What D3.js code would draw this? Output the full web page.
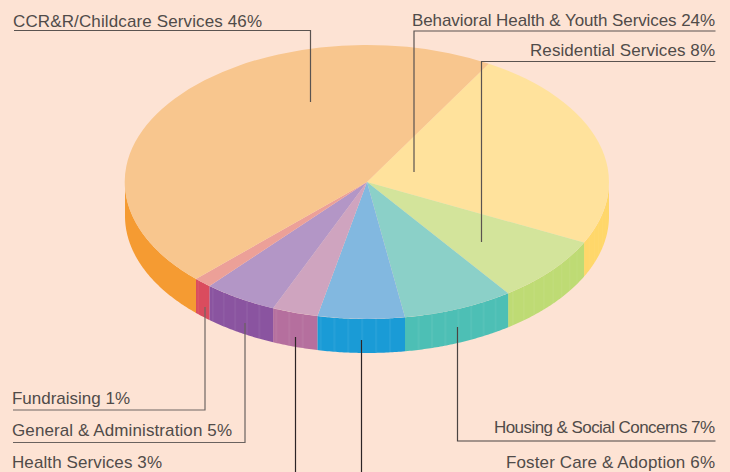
<!DOCTYPE html>
<html>
<head>
<meta charset="utf-8">
<script src="https://cdn.jsdelivr.net/npm/d3@7"></script>
<style>
  html, body { margin: 0; padding: 0; background: #fde3d4; }
  svg { display: block; }
  text { font-family: "Liberation Sans", Arial, sans-serif; font-size: 17px; fill: #504b49; }
</style>
</head>
<body>
<div id="chart"></div>
<script>
// clockwise from the Behavioral/CCR seam at the back of the pie
const categories = ["Behavioral Health & Youth Services", "Residential Services", "Housing & Social Concerns",
  "Foster Care & Adoption", "Health Services", "General & Administration", "Fundraising", "CCR&R/Childcare Services"];
const percents = [24, 8, 7, 6, 3, 5, 1, 46];
// the printed slices are not quite the labelled percents, these are read off the drawing
const shares = [23.9, 7.8, 7.4, 5.8, 3.05, 4.95, 1.2, 45.9];
const topColors = ["#ffe29c", "#d3e49b", "#8bd0c8", "#82b8e0", "#cfa4bf", "#b396c6", "#eca098", "#f8c68e"];
const sideColors = ["#ffd76a", "#bedb74", "#4dbfb5", "#1a9bd6", "#b56f9e", "#8a54a0", "#da4c5e", "#f59b32"];

const width = 730, height = 472;
const rx = 242, ry = 137, cx = 367, cy = 182, depth = 34;
const startDeg = 30.2;

const x = d3.scaleLinear().domain([-1, 1]).range([cx - rx, cx + rx]);
const y = d3.scaleLinear().domain([-1, 1]).range([cy - ry, cy + ry]);

const svg = d3.select("#chart").append("svg")
  .attr("width", width)
  .attr("height", height);

const rad = d => d * Math.PI / 180;
const slices = d3.pie().sort(null)
  .startAngle(rad(startDeg))
  .endAngle(rad(startDeg + 360))(shares);

// side wall, angle is measured clockwise from the top like d3.arc
const wall = d3.area()
  .x(a => x(Math.sin(a)))
  .y0(a => y(-Math.cos(a)))
  .y1(a => y(-Math.cos(a)) + depth);

const walls = svg.append("g");
slices.forEach((s, i) => {
  // only the front half of the rim can be seen
  const a0 = Math.max(s.startAngle, Math.PI / 2);
  const a1 = Math.min(s.endAngle, 3 * Math.PI / 2);
  if (a1 <= a0) return;
  const steps = d3.range(a0, a1, rad(0.5)).concat([a1]);
  walls.append("path").attr("fill", sideColors[i]).attr("d", wall(steps));
  // faint vertical streaks on the rim, the orange one has none
  if (i == 7) return;
  const streak = rad(1.1);
  let k = 0;
  for (let a = a0 + streak; a < a1 - streak / 2; a += streak) {
    k++;
    if (k % 3 != 0) continue;
    walls.append("path")
      .attr("fill", "#fff")
      .attr("opacity", 0.05)
      .attr("d", wall([a, a + streak * 0.5]));
  }
});

const arc = d3.arc().innerRadius(0).outerRadius(1);
svg.append("g")
  .attr("transform", `translate(${cx},${cy}) scale(${rx},${ry})`)
  .selectAll("path")
  .data(slices)
  .join("path")
  .attr("fill", (d, i) => topColors[i])
  .attr("d", arc);

// leader lines
const leaders = [
  {pts: [[14, 30.5], [310.5, 30.5], [310.5, 102]], color: "#5a5350"},
  {pts: [[715.5, 31], [414, 31], [414, 172]], color: "#5a5350"},
  {pts: [[715.5, 61.5], [481.5, 61.5], [481.5, 242]], color: "#5a5350"},
  {pts: [[715.5, 441], [457.5, 441], [457.5, 327]], color: "#4b4442"},
  {pts: [[361.5, 472], [361.5, 340]], color: "#2c2426"},
  {pts: [[295.5, 472], [295.5, 337]], color: "#2c2426"},
  {pts: [[13, 442.5], [245, 442.5], [245, 323]], color: "#6a625f"},
  {pts: [[13, 410], [205, 410], [205, 307]], color: "#6f6663"}
];
svg.append("g")
  .selectAll("path")
  .data(leaders)
  .join("path")
  .attr("fill", "none")
  .attr("stroke", d => d.color)
  .attr("stroke-width", 1.2)
  .attr("d", d => d3.line()(d.pts));

// index into categories, where the label sits and how wide it runs
const labelSpots = [
  {i: 7, x: 13, y: 27, anchor: "start", w: 249},
  {i: 0, x: 715, y: 26, anchor: "end", w: 303},
  {i: 1, x: 715, y: 56, anchor: "end", w: 185},
  {i: 2, x: 715, y: 433, anchor: "end", w: 221},
  {i: 3, x: 715, y: 468, anchor: "end", w: 209},
  {i: 6, x: 12, y: 404, anchor: "start", w: 118},
  {i: 5, x: 12, y: 436, anchor: "start", w: 220},
  {i: 4, x: 12, y: 468, anchor: "start", w: 150}
];
svg.append("g")
  .selectAll("text")
  .data(labelSpots)
  .join("text")
  .attr("x", d => d.x)
  .attr("y", d => d.y)
  .attr("text-anchor", d => d.anchor)
  .attr("textLength", d => d.w)
  .attr("lengthAdjust", "spacing")
  .text(d => `${categories[d.i]} ${percents[d.i]}%`);
</script>
</body>
</html>
